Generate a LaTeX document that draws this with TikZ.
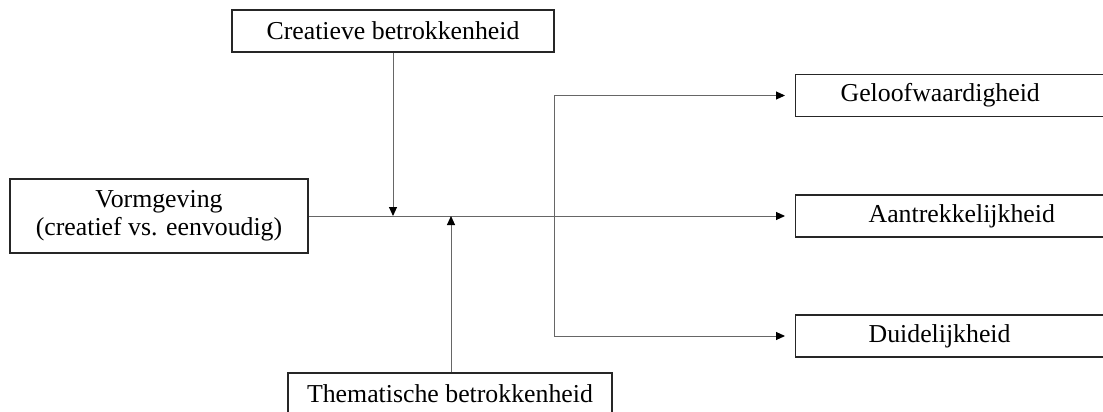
\documentclass[tikz,border=0pt]{standalone}
\usepackage{fontspec}
\setmainfont{Liberation Serif}
\usetikzlibrary{arrows.meta}

\tikzset{
  box/.style={draw=black!85, line width=0.65pt, inner sep=0pt, align=center},
  rbox/.style={box, anchor=west, text width=160pt, align=left, minimum height=21pt},
  link/.style={draw=black!60, line width=0.5pt},
  tip/.style={-{Triangle[length=4.5pt,width=4pt,color=black]}}
}

\begin{document}
\begin{tikzpicture}[x=0.5pt,y=-0.5pt,font=\fontsize{12.9}{14}\selectfont]
  \useasboundingbox (0,0) rectangle (1103,412);

  \node[box,minimum width=149pt,minimum height=37pt] (vorm) at (159,216) {Vormgeving\\(creatief vs. eenvoudig)};
  \node[box,minimum width=161pt,minimum height=21pt] (creatief) at (393,31) {Creatieve betrokkenheid};
  \node[box,minimum width=162pt,minimum height=21pt] (thema) at (450,394) {Thematische betrokkenheid};
  \node[rbox] (geloof) at (795,95.5) {\hspace*{22.5pt}Geloofwaardigheid};
  \node[rbox] (aantrek) at (795,216) {\hspace*{36.5pt}Aantrekkelijkheid};
  \node[rbox] (duidelijk) at (795,336) {\hspace*{36.5pt}Duidelijkheid};

  \coordinate (split) at (554,216);
  \coordinate (hit) at (creatief.south |- vorm.east);
  \coordinate (push) at (451,216);

  \draw[link,tip,shorten >=5pt] (vorm.east) -- (aantrek.west);
  \draw[link,tip] (creatief.south) -- (hit);
  \draw[link,tip] (thema.north -| push) -- (push);
  \draw[link,tip,shorten >=5pt] (split) |- (geloof.west);
  \draw[link,tip,shorten >=5pt] (split) |- (duidelijk.west);
\end{tikzpicture}
\end{document}
